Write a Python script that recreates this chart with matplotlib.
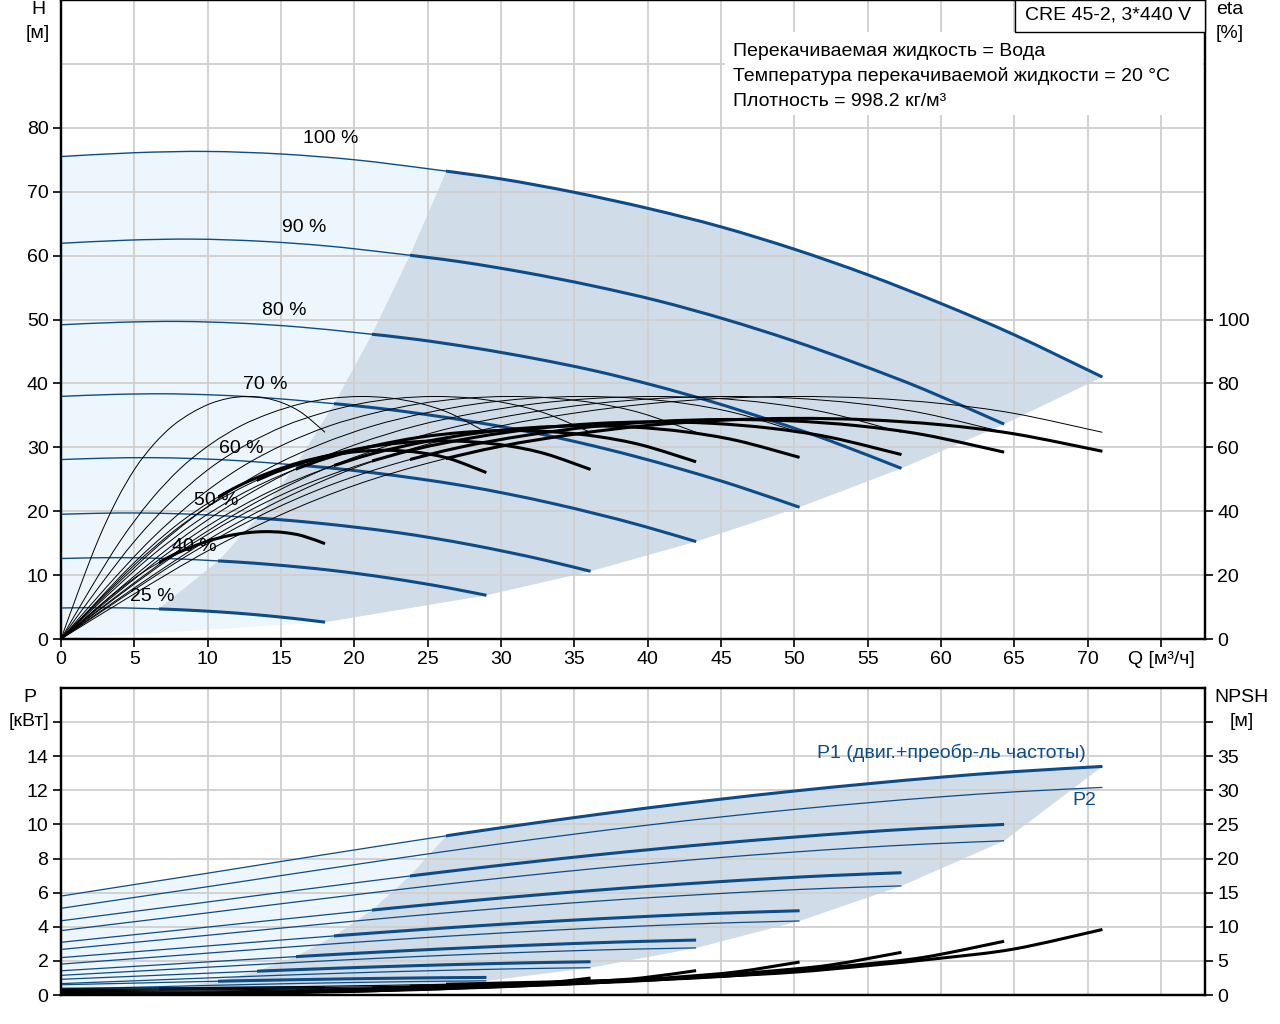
import numpy as np
import matplotlib.pyplot as plt
from matplotlib.patches import Rectangle, Polygon, PathPatch
from matplotlib.path import Path

plt.rcParams['font.family'] = ['Liberation Sans', 'DejaVu Sans']

# speed curves: label and flow at the end of each curve [m3/h]
speed_labels = ['100 %', '90 %', '80 %', '70 %', '60 %', '50 %', '40 %', '25 %']
q_end = [71.0, 64.3, 57.3, 50.35, 43.3, 36.1, 29.0, 18.0]

# 100 % speed curves
q_100 = [0, 5, 10, 15, 20, 25, 30, 35, 40, 45, 50, 55, 60, 65, 71]
h_100 = [75.5, 76.1, 76.3, 75.9, 75.0, 73.6, 72.0, 69.9, 67.4, 64.5, 61.0, 57.0, 52.5, 47.6, 41.0]
eta_100 = [0, 16, 31, 43.5, 53.5, 61, 66.7, 70.7, 73.6, 75.3, 75.9, 75.4, 73.7, 70.6, 64.7]
p2_100 = [5.08, 5.72, 6.35, 7.0, 7.64, 8.27, 8.87, 9.43, 9.96, 10.44, 10.88, 11.27, 11.62, 11.91, 12.17]
npsh_100 = [1.0, 1.03, 1.1, 1.2, 1.35, 1.52, 1.75, 2.0, 2.3, 2.75, 3.35, 4.3, 5.4, 6.75, 9.6]

# P1 (motor + converter) at Q=0 and at curve end for each speed [kW]
p1_start = [5.8, 4.35, 3.09, 2.19, 1.42, 0.92, 0.6, 0.3]
p1_end = [13.4, 10.0, 7.17, 4.94, 3.22, 1.95, 1.03, 0.43]

BLUE = '#0d4c86'
LIGHT = '#eef6fd'
DARK = '#d0dce8'
GRID = '#cfcfcf'
FS = 14
split = 0.37   # thick part of the curves starts here (fraction of curve end)

q_100 = np.array(q_100, float)
h_100 = np.array(h_100)
eta_100 = np.array(eta_100)
p2_100 = np.array(p2_100)
npsh_100 = np.array(npsh_100)

curves = []
for i, qe in enumerate(q_end):
    n = qe / q_end[0]
    q = n * q_100
    p2 = n**3 * p2_100
    loss0 = p1_start[i] - p2[0]
    loss1 = p1_end[i] - p2[-1]
    p1 = p2 + loss0 + (loss1 - loss0) * q_100 / q_100[-1]
    curves.append(dict(n=n, q=q, h=n**2 * h_100, p2=p2, p1=p1,
                       eta_tot=eta_100 * p2 / p1, npsh=n**2 * npsh_100))

fig = plt.figure(figsize=(12.8, 10.24), dpi=100)
W, H = 1280, 1024
ax = fig.add_axes([61 / W, 1 - 639 / H, (1205 - 61) / W, 639 / H])
axb = fig.add_axes([61 / W, 1 - 995 / H, (1205 - 61) / W, (995 - 688) / H])
ax2 = ax.twinx()
axb2 = axb.twinx()


def smooth(x, y):
    # cubic bezier path through the read points (Catmull-Rom tangents)
    pts = np.column_stack([x, y])
    ext = np.vstack([pts[0], pts, pts[-1]])
    verts = [pts[0]]
    for i in range(len(pts) - 1):
        p0, p1, p2, p3 = ext[i], ext[i + 1], ext[i + 2], ext[i + 3]
        verts += [p1 + (p2 - p0) / 6, p2 - (p3 - p1) / 6, p2]
    codes = [Path.MOVETO] + [Path.CURVE4] * (3 * (len(pts) - 1))
    return Path(verts, codes)


def curve(a, x, y, color, lw, qe=None):
    pp = PathPatch(smooth(x, y), fill=False, ec=color, lw=lw, capstyle='butt', zorder=3)
    a.add_patch(pp)
    if qe is not None:
        pp.set_clip_path(Rectangle((split * qe, -1000), 1000, 3000, transform=a.transData))


# ---------- top chart ----------
c100 = curves[0]
c25 = curves[-1]
h_split = np.interp(split * q_end[0], q_100, h_100)
ends = [(qe, c['h'][-1]) for qe, c in zip(q_end, curves)]

light = [(0, 0)] + list(zip(c100['q'], c100['h'])) + ends[1:] + [(0, 0)]
ax.add_patch(Polygon(light, closed=True, fc=LIGHT, ec='none', zorder=1))
left = [(split * qe, c['n']**2 * h_split) for qe, c in zip(q_end, curves)][::-1]
mask = q_100 > split * q_100[-1]
top = list(zip(c100['q'][mask], c100['h'][mask]))
bot = list(zip(c25['q'][mask], c25['h'][mask]))[::-1]
ax.add_patch(Polygon(left + top + ends[1:] + bot[1:], closed=True, fc=DARK, ec='none', zorder=1))

for qe, c in zip(q_end, curves):
    curve(ax, c['q'], c['h'], BLUE, 1.0)
    curve(ax, c['q'], c['h'], BLUE, 2.2, qe)
    curve(ax2, c['q'], eta_100, 'black', 0.7)
    curve(ax2, c['q'], c['eta_tot'], 'black', 0.7)
    curve(ax2, c['q'], c['eta_tot'], 'black', 2.2, qe)

label_pos = [(18.4, 78.3), (16.6, 64.4), (15.2, 51.4), (13.9, 39.8),
             (12.3, 29.8), (10.6, 21.6), (9.1, 14.4), (6.2, 6.7)]
for lab, (x, y) in zip(speed_labels, label_pos):
    ax2.text(x, 2 * y, lab, fontsize=FS, ha='center', va='center', zorder=5)

ax.set_xlim(0, 78)
ax.set_ylim(0, 100)
ax2.set_ylim(0, 200)
ax.set_xticks(range(0, 80, 5))
ax.set_xticklabels([str(v) for v in range(0, 75, 5)] + ['Q [м³/ч]'])
ax.set_yticks(range(0, 90, 10))
ax.set_yticks([90], minor=True)
ax2.set_yticks(range(0, 120, 20))

# ---------- bottom chart ----------
ends_b = [(q_end[0], c100['p1'][-1])] + [(qe, c['p2'][-1]) for qe, c in zip(q_end[1:], curves[1:])]
light_b = [(0, 0)] + list(zip(c100['q'], c100['p1'])) + ends_b[1:] + [(0, 0)]
axb.add_patch(Polygon(light_b, closed=True, fc=LIGHT, ec='none', zorder=1))
left_b = [(split * qe, np.interp(split * qe, c['q'], c['p1'])) for qe, c in zip(q_end, curves)][::-1]
top_b = list(zip(c100['q'][mask], c100['p1'][mask]))
axb.add_patch(Polygon(left_b + top_b + ends_b[1:], closed=True, fc=DARK, ec='none', zorder=1))

for qe, c in zip(q_end, curves):
    curve(axb, c['q'], c['p2'], BLUE, 0.9)
    curve(axb, c['q'], c['p1'], BLUE, 0.9)
    curve(axb, c['q'], c['p1'], BLUE, 2.2, qe)
    curve(axb2, c['q'], c['npsh'], 'black', 0.8)
    curve(axb2, c['q'], c['npsh'], 'black', 2.2, qe)

axb.text(60.7, 14.2, 'P1 (двиг.+преобр-ль частоты)', color=BLUE, fontsize=FS,
         ha='center', va='center', zorder=5)
axb.text(69.8, 11.4, 'P2', color=BLUE, fontsize=FS, ha='center', va='center', zorder=5)

axb.set_xlim(0, 78)
axb.set_ylim(0, 18)
axb2.set_ylim(0, 45)
axb.set_xticks(range(0, 80, 5))
axb.set_yticks(range(0, 18, 2))
axb.set_yticklabels([str(v) for v in range(0, 16, 2)] + [''])
axb2.set_yticks(range(0, 45, 5))
axb2.set_yticklabels([str(v) for v in range(0, 40, 5)] + [''])

# ---------- common styling ----------
for a in (ax, axb):
    a.set_axisbelow('line')
    a.grid(True, which='both', color=GRID, lw=1.3)
    a.tick_params(which='minor', length=0)
for a in (ax, ax2, axb, axb2):
    for s in a.spines.values():
        s.set_linewidth(1.6)
    a.tick_params(direction='out', length=6, width=1.2, labelsize=FS, pad=3)
axb.tick_params(axis='x', length=0, labelbottom=False)


def ftext(x, y, s, **kw):
    fig.text(x / W, 1 - y / H, s, fontsize=FS, va='center', **kw)


ftext(38, 10, 'H', ha='center')
ftext(38, 33, '[м]', ha='center')
ftext(1230, 10, 'eta', ha='center')
ftext(1230, 33, '[%]', ha='center')
ftext(30, 697, 'P', ha='center')
ftext(29, 721, '[кВт]', ha='center')
ftext(1242, 697, 'NPSH', ha='center')
ftext(1242, 721, '[м]', ha='center')

fig.add_artist(Rectangle((725 / W, 1 - 115 / H), (1203 - 725) / W, 83 / H,
                         transform=fig.transFigure, fc='white', ec='none', zorder=5))
fig.add_artist(Rectangle((1015 / W, 1 - 32 / H), (1205 - 1015) / W, 32 / H,
                         transform=fig.transFigure, fc='white', ec='black', lw=1.0, zorder=6))
ftext(1108, 15, 'CRE 45-2, 3*440 V', ha='center', zorder=7)
info = ['Перекачиваемая жидкость = Вода',
        'Температура перекачиваемой жидкости = 20 °C',
        'Плотность = 998.2 кг/м³']
for k, line in enumerate(info):
    ftext(733, 51 + 25 * k, line, ha='left', zorder=7)

fig.savefig('out.png', dpi=100)
